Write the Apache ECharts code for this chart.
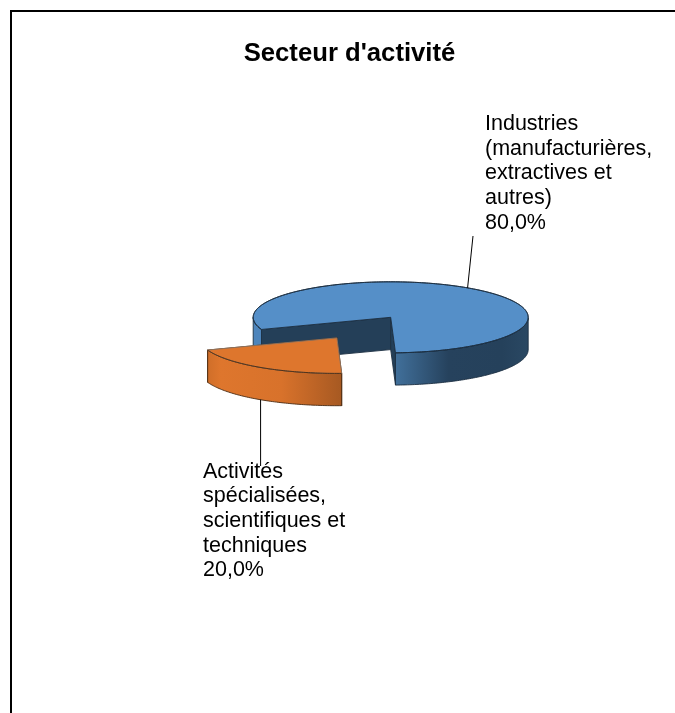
<!DOCTYPE html>
<html>
<head>
<meta charset="utf-8">
<style>html,body{margin:0;padding:0;background:#fff}#c{width:675px;height:713px}</style>
<script src="https://cdn.jsdelivr.net/npm/echarts@6/dist/echarts.min.js"></script>
</head>
<body>
<div id="c"></div>
<script>
const chartTitle = "Secteur d'activité";
const categories = ["Industries\n(manufacturières,\nextractives et\nautres)", "Activités\nspécialisées,\nscientifiques et\ntechniques"];
const values = [80, 20];

// presentation constants
const FONT = '"Liberation Sans", Arial, sans-serif';
const pie = { cx: 390.7, cy: 317.3, rx: 137.5, ry: 35.5, depth: 32.3, startDeg: 250, explode: [0, 0.7] };
const topFill = ['#558fc8', '#de762d'];
const sideFill = [
  [[0, '#41709b'], [0.4, '#26425d'], [0.8, '#25415b'], [1, '#2a4863']],
  [[0, '#cf6e29'], [0.1, '#de762d'], [0.55, '#d8722b'], [0.8, '#bd6426'], [1, '#a65922']]
];
const innerFill = ['#243f58', '#8a4a1c'];
const leftWallFill = '#4d85bc';
const edge = ['#1c2f42', '#4a2a12'];
const straightEdge = ['#1c2f42', '#8f7460'];
const labelBox = [[485, 112], [203, 459.5]];
const leaderEnd = [[473, 236], [260.6, 466]];

const total = values.reduce((a, b) => a + b, 0);
function sectorInfo(i) {
  let start = pie.startDeg;
  for (let k = 0; k < i; k++) start += values[k] / total * 360;
  const sweep = values[i] / total * 360;
  const mid = (start + sweep / 2) * Math.PI / 180;
  const e = pie.explode[i];
  return { start, sweep, ox: pie.cx + e * pie.rx * Math.sin(mid), oy: pie.cy - e * pie.ry * Math.cos(mid), mid };
}
function rimPoint(s, deg, dy) {
  const a = deg * Math.PI / 180;
  return [s.ox + pie.rx * Math.sin(a), s.oy - pie.ry * Math.cos(a) + (dy || 0)];
}
function renderItem(params, api) {
  const i = params.dataIndex;
  api.value(0);
  const s = sectorInfo(i);
  const children = [];
  const lw = 0.9;
  const steps = Math.ceil(s.sweep);
  const rim = [];
  for (let k = 0; k <= steps; k++) rim.push(s.start + s.sweep * k / steps);

  // straight inner walls (drawn first, behind the top)
  const apex = [s.ox, s.oy];
  const apexLow = [s.ox, s.oy + pie.depth];
  [s.start, s.start + s.sweep].forEach(function (deg) {
    const p = rimPoint(s, deg), q = rimPoint(s, deg, pie.depth);
    children.push({ type: 'polygon', shape: { points: [apex, p, q, apexLow] },
      style: { fill: innerFill[i], stroke: edge[i], lineWidth: lw } });
  });

  // outer wall: only the runs of the rim facing the viewer
  let run = [];
  const flush = function () {
    if (run.length > 1) {
      const top = run.map(d => rimPoint(s, d));
      const bot = run.slice().reverse().map(d => rimPoint(s, d, pie.depth));
      const isSmall = run[run.length - 1] - run[0] < 40 && i === 0;
      children.push({ type: 'polygon', shape: { points: top.concat(bot) },
        style: {
          fill: isSmall ? leftWallFill : { type: 'linear', x: 0, y: 0, x2: 1, y2: 0,
            colorStops: sideFill[i].map(c => ({ offset: c[0], color: c[1] })) },
          stroke: edge[i], lineWidth: lw } });
    }
    run = [];
  };
  rim.forEach(function (d) {
    if (Math.cos(d * Math.PI / 180) <= 0) run.push(d); else flush();
  });
  flush();

  // top face, then its darker rim
  const rimPts = rim.map(d => rimPoint(s, d));
  children.push({ type: 'polygon', shape: { points: [apex].concat(rimPts) },
    style: { fill: topFill[i], stroke: straightEdge[i], lineWidth: lw } });
  children.push({ type: 'polyline', shape: { points: rimPts },
    style: { fill: 'none', stroke: edge[i], lineWidth: lw } });

  // leader line
  const midDeg = s.start + s.sweep / 2;
  const facing = Math.cos(midDeg * Math.PI / 180) < 0;
  const from = rimPoint(s, midDeg, facing ? pie.depth : 0);
  children.push({ type: 'line', shape: { x1: from[0] + (i ? 0.6 : 0), y1: from[1], x2: leaderEnd[i][0], y2: leaderEnd[i][1] },
    style: { stroke: '#000', lineWidth: 1 } });

  // data label
  const pct = (values[i] / total * 100).toFixed(1).replace('.', ',') + '%';
  children.push({ type: 'text', x: labelBox[i][0], y: labelBox[i][1],
    style: { text: categories[i] + '\n' + pct, font: '21.5px ' + FONT, fill: '#000', lineHeight: 24.6, textAlign: 'left', textVerticalAlign: 'top' } });

  return { type: 'group', children };
}

const chart = echarts.init(document.getElementById('c'), null, { renderer: 'canvas' });
chart.setOption({
  animation: false,
  backgroundColor: '#fff',
  title: { text: chartTitle, left: 344.5, top: 36, textAlign: 'center',
    textStyle: { fontFamily: FONT, fontSize: 25.7, fontWeight: 'bold', color: '#000' } },
  graphic: [
    { type: 'line', shape: { x1: 11, y1: 11, x2: 675, y2: 11 }, style: { stroke: '#000', lineWidth: 2 } },
    { type: 'line', shape: { x1: 11, y1: 10, x2: 11, y2: 713 }, style: { stroke: '#000', lineWidth: 2 } }
  ],
  series: [{
    type: 'custom',
    coordinateSystem: 'none',
    renderItem,
    silent: true,
    data: values.map((v, i) => ({ name: categories[i], value: [v] }))
  }]
});
</script>
</body>
</html>
